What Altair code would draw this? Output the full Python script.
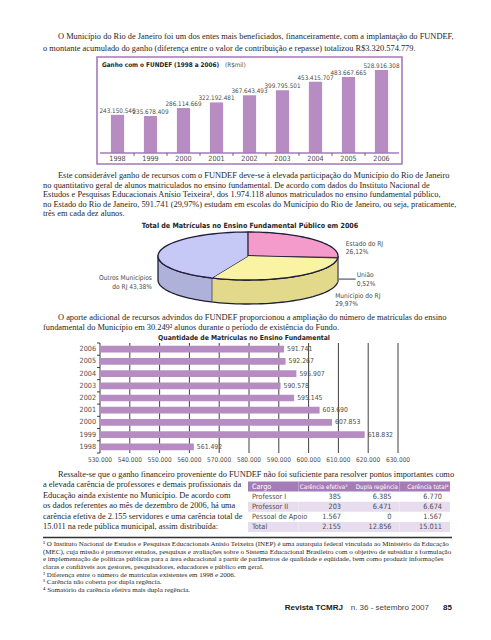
import altair as alt
import pandas as pd

# ------------------------------------------------------------------ data
para1 = [
    "O Município do Rio de Janeiro foi um dos entes mais beneficiados, financeiramente, com a implantação do FUNDEF,",
    "o montante acumulado do ganho (diferença entre o valor de contribuição e repasse) totalizou R$3.320.574.779.",
]
para2 = [
    "Este considerável ganho de recursos com o FUNDEF deve-se à elevada participação do Município do Rio de Janeiro",
    "no quantitativo geral de alunos matriculados no ensino fundamental. De acordo com dados do Instituto Nacional de",
    "Estudos e Pesquisas Educacionais Anísio Teixeira¹, dos 1.974.118 alunos matriculados no ensino fundamental público,",
    "no Estado do Rio de Janeiro, 591.741 (29,97%) estudam em escolas do Município do Rio de Janeiro, ou seja, praticamente,",
    "três em cada dez alunos.",
]
para3 = [
    "O aporte adicional de recursos advindos do FUNDEF proporcionou a ampliação do número de matrículas do ensino",
    "fundamental do Município em 30.249² alunos durante o período de existência  do Fundo.",
]
para4 = [
    "Ressalte-se que o ganho financeiro proveniente do FUNDEF não foi suficiente para resolver pontos importantes como",
    "a elevada carência de professores e demais profissionais da",
    "Educação ainda existente no Município. De acordo com",
    "os dados referentes ao mês de dezembro de 2006, há uma",
    "carência efetiva de 2.155 servidores e uma carência total de",
    "15.011 na rede pública municipal, assim distribuída:",
]
footnotes = [
    "¹ O Instituto Nacional de Estudos e Pesquisas Educacionais Anísio Teixeira (INEP) é uma autarquia federal vinculada ao Ministério da Educação",
    "(MEC), cuja missão é promover estudos, pesquisas e avaliações sobre o Sistema Educacional Brasileiro com o objetivo de subsidiar a formulação",
    "e implementação de políticas públicas para a área educacional a partir de parâmetros de qualidade e eqüidade, bem como produzir informações",
    "claras e confiáveis aos gestores, pesquisadores, educadores e público em geral.",
    "² Diferença entre o número de matrículas existentes em 1998 e 2006.",
    "³ Carência não coberta por dupla regência.",
    "⁴ Somatório da carência efetiva mais dupla regência.",
]

gain_title = "Ganho com o FUNDEF (1998 a 2006)"
gain_unit = "(R$mil)"
gain_years = ["1998", "1999", "2000", "2001", "2002", "2003", "2004", "2005", "2006"]
gain_values = [243150546, 235678409, 286114669, 322192481, 367643493,
               399795501, 453415707, 483667665, 528916308]

pie_title = "Total de Matrículas no Ensino Fundamental Público em 2006"
pie_names = ["Estado do RJ", "União", "Município do RJ", "Outros Municípios do RJ"]
pie_values = [26.12, 0.52, 29.97, 43.38]
pie_label_heads = ["Estado do RJ", "União", "Município do RJ", "Outros Municípios"]
pie_label_tails = ["", "", "", "do RJ   "]

enr_title = "Quantidade de Matrículas no Ensino Fundamental"
enr_years = ["2006", "2005", "2004", "2003", "2002", "2001", "2000", "1999", "1998"]
enr_values = [591741, 592267, 595907, 590578, 595145, 603690, 607853, 618832, 561492]
enr_ticks = [530000, 540000, 550000, 560000, 570000, 580000,
             590000, 600000, 610000, 620000, 630000]

table_cols = ["Cargo", "Carência efetiva³", "Dupla regência", "Carência total⁴"]
table_rows = ["Professor I", "Professor II", "Pessoal de Apoio", "Total"]
carencia_efetiva = [385, 203, 1567, 2155]
dupla_regencia = [6385, 6471, 0, 12856]
carencia_total = [6770, 6674, 1567, 15011]
shaded_rows = ["Professor II", "Total"]

footer_mag = "Revista TCMRJ"
footer_issue = "n. 36 - setembro 2007"
footer_page = "85"

# ------------------------------------------------------------------ style
W, H = 475, 624
def X(v):
    return v - 8
def Y(v):
    return v - 8

SERIF = "Liberation Serif, Times New Roman, serif"
NARROW = "Liberation Sans Narrow, DejaVu Sans Condensed, Arial Narrow, sans-serif"
FOOT = "Liberation Sans, Arial, sans-serif"
TXT = "#262626"
GRAY = "#4d4d4d"
MAUVE = "#b68cc2"
PURPLE = "#a57ab8"
HEADER = "#a67cb8"
SHADE = "#e7ddef"
EDGE = "#1e1e3a"
TOP_COLORS = ["#f49bcb", "#8a7f99", "#fbf3a4", "#c6c9f5"]
SIDE_COLORS = ["#d77fb0", "#5f5870", "#e2d98a", "#aeb1da"]


def br(n):
    return f"{n:,}".replace(",", ".")


def lin(d0, d1, r0, r1):
    return alt.Scale(domain=[d0, d1], range=[r0, r1], nice=False, zero=False)


def paragraph(lines, y0, step, size=8.4, indent=True, x0=43, x1=58):
    n = len(lines)
    df = pd.DataFrame({
        "t": lines,
        "i": list(range(n)),
        "ind": [1 if (k == 0 and indent) else 0 for k in range(n)],
    })
    return alt.Chart(df).mark_text(
        align="left", baseline="middle", font=SERIF, fontSize=size, color=TXT
    ).encode(
        x=alt.X("ind:Q", scale=lin(0, 1, X(x0), X(x1)), axis=None),
        y=alt.Y("i:Q", scale=lin(0, max(n - 1, 1), Y(y0), Y(y0 + step * max(n - 1, 1))), axis=None),
        text="t:N",
    )


def label(text, x, y, **kw):
    props = dict(align="left", baseline="middle", font=NARROW, fontSize=8, color=TXT)
    props.update(kw)
    return alt.Chart(pd.DataFrame({"t": [text]})).mark_text(**props).encode(
        x=alt.value(X(x)), y=alt.value(Y(y)), text="t:N")


layers = []

# ------------------------------------------------------------------ paragraphs
layers.append(paragraph(para1, 36, 11.5))
layers.append(paragraph(para2, 175, 9.6))
layers.append(paragraph(para3, 317, 10.2))
layers.append(paragraph(para4[:1], 474, 10.4))
layers.append(paragraph(para4[1:], 484.4, 10.4, indent=False))
layers.append(paragraph(footnotes, 544, 7.65, size=7.0, indent=False))

# ------------------------------------------------------------------ chart 1: gain bars
gain_df = pd.DataFrame({"year": gain_years, "v": gain_values,
                        "lab": [br(v) for v in gain_values]})
gx = alt.Scale(domain=gain_years, range=[X(101), X(398)], paddingInner=0.6, paddingOuter=0.3)
gy = lin(0, 600e6, Y(153), Y(153 - 94.2))
fx = lin(0, 1, X(97), X(402))

layers.append(alt.Chart(pd.DataFrame({"a": [0]})).mark_rect(
    fillOpacity=0, stroke=PURPLE, strokeWidth=1.6).encode(
    x=alt.value(X(97)), x2=alt.value(X(402)), y=alt.value(Y(57)), y2=alt.value(Y(164))))
layers.append(alt.Chart(gain_df).mark_bar(color=MAUVE).encode(
    x=alt.X("year:N", scale=gx, axis=None),
    y=alt.Y("v:Q", scale=gy, axis=None)))
layers.append(alt.Chart(gain_df).mark_text(
    baseline="bottom", dy=-1, font=NARROW, fontSize=6.3, color=GRAY).encode(
    x=alt.X("year:N", scale=gx, axis=None),
    y=alt.Y("v:Q", scale=gy, axis=None), text="lab:N"))
layers.append(alt.Chart(gain_df).transform_calculate(z="0").mark_text(
    baseline="middle", dy=6, font=NARROW, fontSize=7.2, color=GRAY).encode(
    x=alt.X("year:N", scale=gx, axis=None),
    y=alt.Y("z:Q", scale=gy, axis=None), text="year:N"))
layers.append(alt.Chart(pd.DataFrame({"a": [0]})).transform_calculate(
    x0="0.01", x1="0.99", z="0").mark_rule(color=PURPLE, strokeWidth=1.5).encode(
    x=alt.X("x0:Q", scale=fx, axis=None), x2="x1:Q",
    y=alt.Y("z:Q", scale=gy, axis=None)))
gx_mid = alt.Scale(domain=gain_years, range=[X(101 - 16.5), X(398 - 16.5)],
                   paddingInner=0.6, paddingOuter=0.3)
layers.append(alt.Chart(gain_df[gain_df.year != gain_years[0]]).transform_calculate(
    z="0", z2="-19000000").mark_rule(color=GRAY, strokeWidth=0.8).encode(
    x=alt.X("year:N", scale=gx_mid, axis=None),
    y=alt.Y("z:Q", scale=gy, axis=None), y2="z2:Q"))
layers.append(label(gain_title, 102, 64.5, fontWeight="bold", fontSize=6.4))
layers.append(label(gain_unit, 225, 64.5, fontSize=6.3, color=GRAY))

# ------------------------------------------------------------------ chart 2: 3-D pie
pie_df = pd.DataFrame({"name": pie_names, "pct": pie_values, "ord": list(range(len(pie_names))),
                       "lab": [h + "\n" + t + f"{v:.2f}".replace(".", ",") + "%"
                               for h, t, v in zip(pie_label_heads, pie_label_tails, pie_values)]})
CX, CY, RX, RY, DEPTH = 248, 256, 90, 24, 24
DU = DEPTH / RY
pxs = lin(-1, 1, X(CX - RX), X(CX + RX))
pys = lin(-1, 1, Y(CY + RY), Y(CY - RY))


def pie_base():
    return alt.Chart(pie_df).transform_window(
        cum="sum(pct)", sort=[alt.SortField("ord")], frame=[None, 0]
    ).transform_calculate(
        a0="(datum.cum - datum.pct) * PI / 50", a1="datum.cum * PI / 50")


side = pie_base().transform_calculate(
    b0="max(datum.a0, PI / 2)", b1="min(datum.a1, 3 * PI / 2)"
).transform_filter("datum.b1 > datum.b0").transform_calculate(
    k="sequence(0, 82)").transform_flatten(["k"]).transform_calculate(
    t="datum.k <= 40 ? datum.b0 + (datum.b1 - datum.b0) * datum.k / 40 : datum.b1 - (datum.b1 - datum.b0) * (datum.k - 41) / 40",
    d="datum.k <= 40 ? 0 : 1").transform_calculate(
    ux="sin(datum.t)", uy=f"cos(datum.t) - datum.d * {DU}"
).mark_line(filled=True, stroke=EDGE, strokeWidth=1.3, strokeJoin="round").encode(
    x=alt.X("ux:Q", scale=pxs, axis=None), y=alt.Y("uy:Q", scale=pys, axis=None),
    order="k:Q", detail="name:N",
    color=alt.Color("name:N", scale=alt.Scale(domain=pie_names, range=SIDE_COLORS), legend=None))
layers.append(side)

top = pie_base().transform_calculate(k="sequence(0, 42)").transform_flatten(["k"]).transform_calculate(
    t="datum.a0 + (datum.a1 - datum.a0) * min(datum.k, 40) / 40",
    r="datum.k > 40 ? 0 : 1").transform_calculate(
    ux="datum.r * sin(datum.t)", uy="datum.r * cos(datum.t)"
).mark_line(filled=True, stroke=EDGE, strokeWidth=1.3, strokeJoin="round").encode(
    x=alt.X("ux:Q", scale=pxs, axis=None), y=alt.Y("uy:Q", scale=pys, axis=None),
    order="k:Q", detail="name:N",
    color=alt.Color("name:N", scale=alt.Scale(domain=pie_names, range=TOP_COLORS), legend=None))
layers.append(top)


def pie_label(name, dx, dy, align="left"):
    return pie_base().transform_calculate(m="(datum.a0 + datum.a1) / 2").transform_calculate(
        ux="sin(datum.m)", uy="cos(datum.m)").transform_filter(
        alt.datum.name == name).mark_text(
        align=align, baseline="middle", lineBreak="\n", dx=dx, dy=dy,
        font=NARROW, fontSize=6.6, color=GRAY, lineHeight=8.5).encode(
        x=alt.X("ux:Q", scale=pxs, axis=None), y=alt.Y("uy:Q", scale=pys, axis=None),
        text="lab:N")


layers.append(pie_label(pie_names[0], 32, 4))
layers.append(pie_label(pie_names[1], 19, 17))
layers.append(pie_label(pie_names[2], 42, 19))
layers.append(pie_label(pie_names[3], -8, 27, align="right"))
layers.append(pie_base().transform_calculate(m="(datum.a0 + datum.a1) / 2").transform_calculate(
    ux=f"sin(datum.m) + {1 / RX}", ux2=f"sin(datum.m) + {18 / RX}",
    uy=f"cos(datum.m) - {21 / RY}").transform_filter(alt.datum.name == pie_names[1]).mark_rule(
    color=EDGE, strokeWidth=0.9).encode(
    x=alt.X("ux:Q", scale=pxs, axis=None), x2="ux2:Q",
    y=alt.Y("uy:Q", scale=pys, axis=None)))
layers.append(label(pie_title, 250, 226, align="center", fontWeight="bold", fontSize=7.1))

# ------------------------------------------------------------------ chart 3: enrolment bars
enr_df = pd.DataFrame({"year": enr_years, "v": enr_values, "lab": [br(v) for v in enr_values]})
tick_df = pd.DataFrame({"t": enr_ticks, "lab": [br(v) for v in enr_ticks]})
hx = lin(enr_ticks[0], enr_ticks[-1], X(100), X(398))
hy = alt.Scale(domain=enr_years, range=[Y(343), Y(453)], paddingInner=0.45, paddingOuter=0.22)
gys = lin(0, 1, Y(453), Y(343))
bys = lin(0, len(enr_years), Y(343), Y(453))

layers.append(alt.Chart(tick_df).transform_calculate(g0="0", g1="1").mark_rule(
    color="#2a2a2a", strokeWidth=0.9).encode(
    x=alt.X("t:Q", scale=hx, axis=None),
    y=alt.Y("g0:Q", scale=gys, axis=None), y2="g1:Q"))
layers.append(alt.Chart(pd.DataFrame({"i": list(range(len(enr_years) + 1))})).transform_calculate(
    a=str(enr_ticks[0] - 1000), b=str(enr_ticks[0])).mark_rule(
    color="#2a2a2a", strokeWidth=0.9).encode(
    x=alt.X("a:Q", scale=hx, axis=None), x2="b:Q",
    y=alt.Y("i:Q", scale=bys, axis=None)))
layers.append(alt.Chart(enr_df).transform_calculate(base=str(enr_ticks[0])).mark_bar(
    color=MAUVE).encode(
    x=alt.X("v:Q", scale=hx, axis=None), x2="base:Q",
    y=alt.Y("year:N", scale=hy, axis=None)))
layers.append(alt.Chart(enr_df).mark_text(
    align="left", baseline="middle", dx=3, font=NARROW, fontSize=6.8, color=GRAY).encode(
    x=alt.X("v:Q", scale=hx, axis=None),
    y=alt.Y("year:N", scale=hy, axis=None), text="lab:N"))
layers.append(alt.Chart(enr_df).transform_calculate(base=str(enr_ticks[0])).mark_text(
    align="right", baseline="middle", dx=-4, font=NARROW, fontSize=7.2, color=GRAY).encode(
    x=alt.X("base:Q", scale=hx, axis=None),
    y=alt.Y("year:N", scale=hy, axis=None), text="year:N"))
layers.append(alt.Chart(tick_df).transform_calculate(g0="0").mark_text(
    align="center", baseline="middle", dy=7, font=NARROW, fontSize=6.5, color=GRAY).encode(
    x=alt.X("t:Q", scale=hx, axis=None),
    y=alt.Y("g0:Q", scale=gys, axis=None), text="lab:N"))
layers.append(label(enr_title, 244, 338, align="center", fontWeight="bold", fontSize=6.8))

# ------------------------------------------------------------------ table
rows = ["hdr"] + table_rows
cells = []
for c in table_cols:
    cells.append({"row": "hdr", "col": c, "t": c, "kind": "hdr"})
for i, r in enumerate(table_rows):
    vals = [r, br(carencia_efetiva[i]), br(dupla_regencia[i]), br(carencia_total[i])]
    for c, v in zip(table_cols, vals):
        cells.append({"row": r, "col": c, "t": v,
                      "kind": "shade" if r in shaded_rows else "plain"})
cell_df = pd.DataFrame(cells)
TL, TR = 248, 450
step = (TR - TL) / len(table_cols)
tx = alt.Scale(domain=table_cols, range=[X(TL), X(TR)], paddingInner=0, paddingOuter=0)
tx_left = alt.Scale(type="point", domain=table_cols, range=[X(TL), X(TR - step)], padding=0)
tx_right = alt.Scale(type="point", domain=table_cols, range=[X(TL + step), X(TR)], padding=0)
ty = alt.Scale(domain=rows, range=[Y(481.5), Y(532)], paddingInner=0, paddingOuter=0)

layers.append(alt.Chart(cell_df).transform_filter("datum.kind != 'plain'").mark_rect().encode(
    x=alt.X("col:N", scale=tx, axis=None), y=alt.Y("row:N", scale=ty, axis=None),
    color=alt.Color("kind:N", scale=alt.Scale(domain=["hdr", "shade"], range=[HEADER, SHADE]),
                    legend=None)))
layers.append(alt.Chart(cell_df).transform_filter(
    f"datum.col == '{table_cols[0]}'").mark_text(
    align="left", baseline="middle", dx=4, font=NARROW, fontSize=7.3).encode(
    x=alt.X("col:N", scale=tx_left, axis=None),
    y=alt.Y("row:N", scale=ty, axis=None), text="t:N",
    color=alt.Color("kind:N", scale=alt.Scale(domain=["hdr", "shade", "plain"],
                                              range=["#ffffff", GRAY, GRAY]), legend=None)))
layers.append(alt.Chart(cell_df).transform_filter(
    f"datum.col != '{table_cols[0]}' && datum.kind == 'hdr'").mark_text(
    align="right", baseline="middle", dx=-1.5, font=NARROW, fontSize=6.2, color="#ffffff").encode(
    x=alt.X("col:N", scale=tx_right, axis=None),
    y=alt.Y("row:N", scale=ty, axis=None), text="t:N"))
layers.append(alt.Chart(cell_df).transform_filter(
    f"datum.col != '{table_cols[0]}' && datum.kind != 'hdr'").mark_text(
    align="right", baseline="middle", dx=-8, font=NARROW, fontSize=7.3, color=GRAY).encode(
    x=alt.X("col:N", scale=tx_right, axis=None),
    y=alt.Y("row:N", scale=ty, axis=None), text="t:N"))

# ------------------------------------------------------------------ separators / footer
layers.append(alt.Chart(pd.DataFrame({"a": [0]})).mark_rule(color="#333333", strokeWidth=1.6).encode(
    x=alt.value(X(43)), x2=alt.value(X(452)), y=alt.value(Y(537.5))))
layers.append(label(footer_mag, 343, 608, align="right", font=FOOT, fontWeight="bold",
                    fontSize=8, color="#222222"))
layers.append(label(footer_issue, 429, 608, align="right", font=FOOT, fontSize=8, color="#444444"))
layers.append(label(footer_page, 452, 608, align="right", font=FOOT, fontWeight="bold",
                    fontSize=8, color="#222222"))

chart = alt.layer(*layers).resolve_scale(
    x="independent", y="independent", color="independent"
).properties(
    width=W, height=H, padding=0, autosize="none", background="#ffffff"
).configure_view(stroke=None)

chart.save("out.html", embed_options={"renderer": "svg", "actions": False})
